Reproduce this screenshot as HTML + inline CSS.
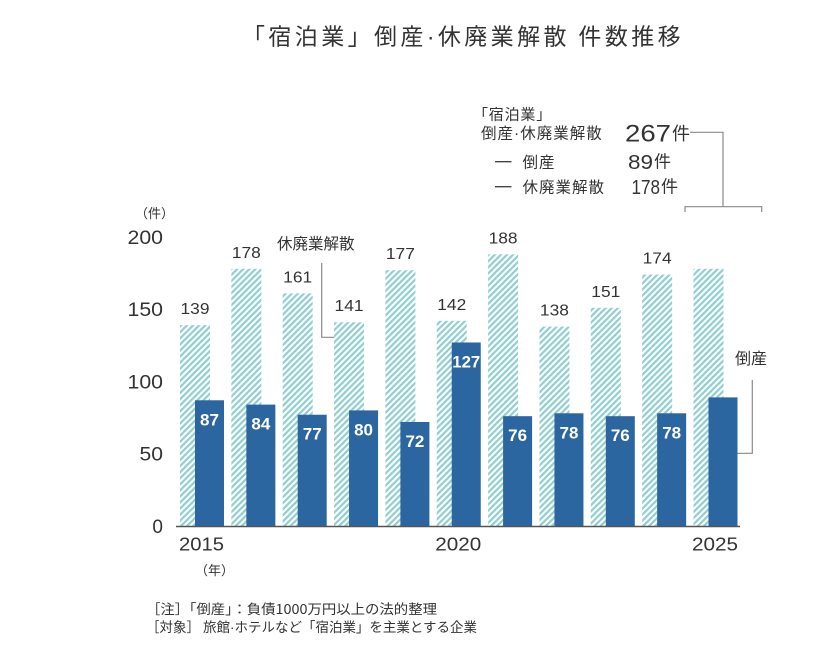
<!DOCTYPE html>
<html><head><meta charset="utf-8"><style>
html,body{margin:0;padding:0;background:#fff;}
svg{display:block;}
text{font-family:"Liberation Sans","Noto Sans CJK JP",sans-serif;fill:#333;}
.j{font-family:"Noto Sans CJK JP","Liberation Sans",sans-serif;}
</style></head><body>
<svg width="840" height="655" viewBox="0 0 840 655" xmlns="http://www.w3.org/2000/svg">
<defs>
<pattern id="h" patternUnits="userSpaceOnUse" width="4.3" height="4.3" patternTransform="rotate(45)">
<rect x="0" y="0" width="4.3" height="4.3" fill="#ffffff"/>
<rect x="0" y="0" width="2.2" height="4.3" fill="#8fcfd0"/>
</pattern>
</defs>

<!-- title -->
<text class="j" x="242" y="44.5" font-size="23" letter-spacing="3.4">「宿泊業」倒産<tspan font-family="Liberation Sans">·</tspan>休廃業解散 件数推移</text>

<!-- legend top right -->
<text class="j" x="473" y="119.5" font-size="15" letter-spacing="0.8">「宿泊業」</text>
<text class="j" x="481" y="138.7" font-size="15.5" letter-spacing="1">倒産<tspan font-family="Liberation Sans">·</tspan>休廃業解散</text>
<text x="625" y="141.5" font-size="24" textLength="46" lengthAdjust="spacingAndGlyphs">267</text>
<text class="j" x="672" y="140" font-size="18">件</text>
<line x1="495" y1="161.7" x2="511.5" y2="161.7" stroke="#444" stroke-width="1.3"/>
<text class="j" x="522.5" y="167.4" font-size="15.5" letter-spacing="1">倒産</text>
<text x="628" y="168.8" font-size="20" textLength="25" lengthAdjust="spacingAndGlyphs">89</text>
<text class="j" x="654" y="167.5" font-size="17">件</text>
<line x1="495" y1="186.7" x2="511.5" y2="186.7" stroke="#444" stroke-width="1.3"/>
<text class="j" x="522.5" y="192.4" font-size="15.5" letter-spacing="1">休廃業解散</text>
<text x="631.5" y="193.8" font-size="20" textLength="28.5" lengthAdjust="spacingAndGlyphs">178</text>
<text class="j" x="661" y="192.5" font-size="17">件</text>

<!-- bracket -->
<g stroke="#8a8a8a" stroke-width="1.2" fill="none">
<polyline points="690,132.3 723,132.3 723,206.7"/>
<polyline points="685,212 685,206.7 761.7,206.7 761.7,212"/>
<polyline points="321.7,263 321.7,337.3 336.7,337.3"/>
<polyline points="752.3,380 752.3,453.3 737,453.3"/>
</g>

<!-- unit labels -->
<text class="j" x="135" y="218" font-size="13">（件）</text>
<text class="j" x="195" y="575" font-size="13">（年）</text>

<!-- y axis labels -->
<g font-size="19" text-anchor="end">
<text x="163" y="243.8" textLength="35.5" lengthAdjust="spacingAndGlyphs">200</text>
<text x="163" y="316" textLength="35.5" lengthAdjust="spacingAndGlyphs">150</text>
<text x="163" y="388.3" textLength="35.5" lengthAdjust="spacingAndGlyphs">100</text>
<text x="163" y="460.5" textLength="23.5" lengthAdjust="spacingAndGlyphs">50</text>
<text x="163" y="532.8">0</text>
</g>

<!-- hatched bars -->
<g fill="url(#h)">
<rect x="180" y="325.14" width="30" height="200.86"/>
<rect x="231.35" y="268.79" width="30" height="257.21"/>
<rect x="282.7" y="293.35" width="30" height="232.65"/>
<rect x="334.05" y="322.25" width="30" height="203.75"/>
<rect x="385.4" y="270.23" width="30" height="255.77"/>
<rect x="436.75" y="320.81" width="30" height="205.19"/>
<rect x="488.1" y="254.34" width="30" height="271.66"/>
<rect x="539.45" y="326.59" width="30" height="199.41"/>
<rect x="590.8" y="307.8" width="30" height="218.2"/>
<rect x="642.15" y="274.57" width="30" height="251.43"/>
<rect x="693.5" y="268.79" width="30" height="257.21"/>
</g>

<!-- blue bars -->
<g fill="#2b66a0">
<rect x="195" y="400.28" width="29" height="125.72"/>
<rect x="246.35" y="404.62" width="29" height="121.38"/>
<rect x="297.7" y="414.73" width="29" height="111.27"/>
<rect x="349.05" y="410.4" width="29" height="115.6"/>
<rect x="400.4" y="421.96" width="29" height="104.04"/>
<rect x="451.75" y="342.48" width="29" height="183.52"/>
<rect x="503.1" y="416.18" width="29" height="109.82"/>
<rect x="554.45" y="413.29" width="29" height="112.71"/>
<rect x="605.8" y="416.18" width="29" height="109.82"/>
<rect x="657.15" y="413.29" width="29" height="112.71"/>
<rect x="708.5" y="397.39" width="29" height="128.61"/>
</g>

<!-- axis -->
<line x1="176" y1="526.5" x2="740" y2="526.5" stroke="#555" stroke-width="1.5"/>

<!-- hatched value labels -->
<g font-size="16" text-anchor="middle">
<text x="195" y="314.1" textLength="29" lengthAdjust="spacingAndGlyphs">139</text>
<text x="246.35" y="257.8" textLength="29" lengthAdjust="spacingAndGlyphs">178</text>
<text x="297.7" y="282.3" textLength="29" lengthAdjust="spacingAndGlyphs">161</text>
<text x="349.05" y="311.2" textLength="29" lengthAdjust="spacingAndGlyphs">141</text>
<text x="400.4" y="259.2" textLength="29" lengthAdjust="spacingAndGlyphs">177</text>
<text x="451.75" y="309.8" textLength="29" lengthAdjust="spacingAndGlyphs">142</text>
<text x="503.1" y="243.3" textLength="29" lengthAdjust="spacingAndGlyphs">188</text>
<text x="554.45" y="315.6" textLength="29" lengthAdjust="spacingAndGlyphs">138</text>
<text x="605.8" y="296.8" textLength="29" lengthAdjust="spacingAndGlyphs">151</text>
<text x="657.15" y="263.6" textLength="29" lengthAdjust="spacingAndGlyphs">174</text>
</g>

<!-- blue value labels -->
<g font-size="17" font-weight="bold" text-anchor="middle" style="fill:#fff">
<text x="209.5" y="425.3" style="fill:#fff">87</text>
<text x="260.85" y="429.6" style="fill:#fff">84</text>
<text x="312.2" y="439.7" style="fill:#fff">77</text>
<text x="363.55" y="435.4" style="fill:#fff">80</text>
<text x="414.9" y="447" style="fill:#fff">72</text>
<text x="466.25" y="367.5" style="fill:#fff" textLength="28" lengthAdjust="spacingAndGlyphs">127</text>
<text x="517.6" y="441.2" style="fill:#fff">76</text>
<text x="568.95" y="438.3" style="fill:#fff">78</text>
<text x="620.3" y="441.2" style="fill:#fff">76</text>
<text x="671.65" y="438.3" style="fill:#fff">78</text>
</g>

<!-- series labels -->
<text class="j" x="277" y="248.8" font-size="15.5">休廃業解散</text>
<text class="j" x="735" y="364" font-size="16">倒産</text>

<!-- x labels -->
<g font-size="18" text-anchor="middle">
<text x="201.5" y="550.5" textLength="45" lengthAdjust="spacingAndGlyphs">2015</text>
<text x="458.3" y="550.5" textLength="46" lengthAdjust="spacingAndGlyphs">2020</text>
<text x="715" y="550.5" textLength="46" lengthAdjust="spacingAndGlyphs">2025</text>
</g>

<!-- notes -->
<text class="j" x="146" y="614" font-size="13.5" textLength="291" lengthAdjust="spacingAndGlyphs">［注］「倒産」：負債1000万円以上の法的整理</text>
<text class="j" x="146" y="632" font-size="13.5" textLength="331" lengthAdjust="spacingAndGlyphs">［対象］ 旅館<tspan font-family="Liberation Sans">·</tspan>ホテルなど「宿泊業」を主業とする企業</text>
</svg>
</body></html>
